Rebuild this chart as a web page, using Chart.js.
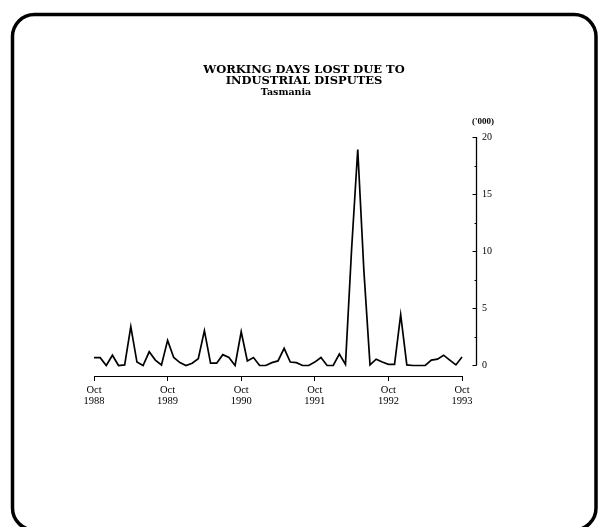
<!DOCTYPE html>
<html><head><meta charset="utf-8">
<script src="https://cdn.jsdelivr.net/npm/chart.js@4.4.0/dist/chart.umd.min.js"></script>
<style>html,body{margin:0;padding:0;background:#fff;}#wrap{width:598px;height:527px;}</style>
</head><body><div id="wrap"><canvas id="c" width="598" height="527"></canvas></div>
<script>
// ---- data ----
const titleLines = ['WORKING DAYS LOST DUE TO', 'INDUSTRIAL DISPUTES'];
const subtitleText = 'Tasmania';
const unitLabel = "('000)";
// monthly values, Oct 1988 .. Oct 1993 (thousand working days)
const daysLost = [
  0.68, 0.68, 0.0, 0.9, 0.0, 0.05, 3.4, 0.3, 0.0, 1.2, 0.47, 0.05,
  2.2, 0.7, 0.25, 0.0, 0.2, 0.6, 3.05, 0.2, 0.2, 0.95, 0.7, 0.0,
  2.95, 0.4, 0.7, 0.0, 0.0, 0.25, 0.4, 1.5, 0.3, 0.25, 0.0, 0.0,
  0.3, 0.7, 0.0, 0.0, 1.0, 0.1, 10.2, 18.9, 8.3, 0.05, 0.55, 0.3,
  0.1, 0.1, 4.45, 0.05, 0.0, 0.0, 0.0, 0.47, 0.55, 0.9, 0.47, 0.05,
  0.75
];
const xTickMonths = [0, 12, 24, 36, 48, 60];
const xTickLabels = [['Oct','1988'],['Oct','1989'],['Oct','1990'],['Oct','1991'],['Oct','1992'],['Oct','1993']];
const yTicks = [0, 5, 10, 15, 20];
const yMinorTicks = [2.5, 7.5, 12.5, 17.5];

const points = daysLost.map((v, i) => ({x: i, y: v}));

const decor = {
  id: 'decor',
  afterDraw(chart) {
    const ctx = chart.ctx, ca = chart.chartArea;
    const xs = chart.scales.x, ys = chart.scales.y;
    ctx.save();
    ctx.strokeStyle = '#000';
    ctx.fillStyle = '#000';
    // frame
    ctx.lineWidth = 3.5;
    ctx.beginPath();
    ctx.roundRect(12.5, 14.5, 583.5, 515.5, 22);
    ctx.stroke();
    // y axis line
    ctx.lineWidth = 1.3;
    const ax = Math.round(ca.right) + 0.5;
    ctx.beginPath();
    ctx.moveTo(ax, ys.getPixelForValue(0));
    ctx.lineTo(ax, ys.getPixelForValue(20));
    ctx.stroke();
    ctx.lineWidth = 1;
    yTicks.forEach(v => {
      const y = Math.round(ys.getPixelForValue(v)) + 0.5;
      ctx.beginPath(); ctx.moveTo(ax, y); ctx.lineTo(ax - 4, y); ctx.stroke();
    });
    yMinorTicks.forEach(v => {
      const y = Math.round(ys.getPixelForValue(v)) + 0.5;
      ctx.beginPath(); ctx.moveTo(ax, y); ctx.lineTo(ax - 2, y); ctx.stroke();
    });
    // x axis line
    const by = Math.round(ca.bottom) + 0.5;
    ctx.lineWidth = 1.2;
    ctx.beginPath();
    ctx.moveTo(xs.getPixelForValue(xTickMonths[0]), by);
    ctx.lineTo(xs.getPixelForValue(xTickMonths[xTickMonths.length - 1]), by);
    ctx.stroke();
    // texts
    ctx.textBaseline = 'middle';
    ctx.textAlign = 'center';
    ctx.font = 'bold 9.5px "DejaVu Serif"';
    ctx.fillText(subtitleText, 286, 92.5);
    ctx.textAlign = 'left';
    ctx.font = 'bold 9px "Liberation Serif"';
    ctx.fillText(unitLabel, ca.right - 4, 122);
    ctx.restore();
  }
};

new Chart(document.getElementById('c'), {
  type: 'line',
  data: {
    datasets: [{
      data: points,
      borderColor: '#000',
      borderWidth: 1.7,
      pointRadius: 0,
      tension: 0,
      fill: false
    }]
  },
  options: {
    responsive: false,
    animation: false,
    devicePixelRatio: 1,
    layout: { padding: { left: 94, right: 84, top: 0, bottom: 111 } },
    plugins: {
      legend: { display: false },
      tooltip: { enabled: false },
      title: {
        display: true,
        text: titleLines,
        color: '#000',
        font: { family: '"DejaVu Serif"', size: 11.5, weight: 'bold', lineHeight: 1 },
        padding: { top: 64, bottom: 50 }
      }
    },
    scales: {
      x: {
        type: 'linear',
        min: 0,
        max: 62.28,
        afterBuildTicks: s => { s.ticks = xTickMonths.map(v => ({ value: v })); },
        afterFit: s => { s.height = 40; },
        grid: { display: true, drawOnChartArea: false, drawTicks: true, tickLength: 5, color: '#000', tickColor: '#000', lineWidth: 1 },
        border: { display: false },
        ticks: {
          autoSkip: false, maxRotation: 0, color: '#000', padding: 3,
          font: { family: '"Liberation Serif"', size: 10.5, lineHeight: 1.1 },
          callback: v => { const k = xTickMonths.indexOf(v); return k >= 0 ? xTickLabels[k] : ''; }
        }
      },
      y: {
        type: 'linear',
        position: 'right',
        min: -0.92,
        max: 20,
        afterBuildTicks: s => { s.ticks = yTicks.map(v => ({ value: v })); },
        afterFit: s => { s.width = 38; },
        grid: { display: false, drawTicks: false },
        border: { display: false },
        ticks: {
          color: '#000', padding: 6,
          font: { family: '"Liberation Serif"', size: 10 }
        }
      }
    }
  },
  plugins: [decor]
});
</script>
</body></html>
